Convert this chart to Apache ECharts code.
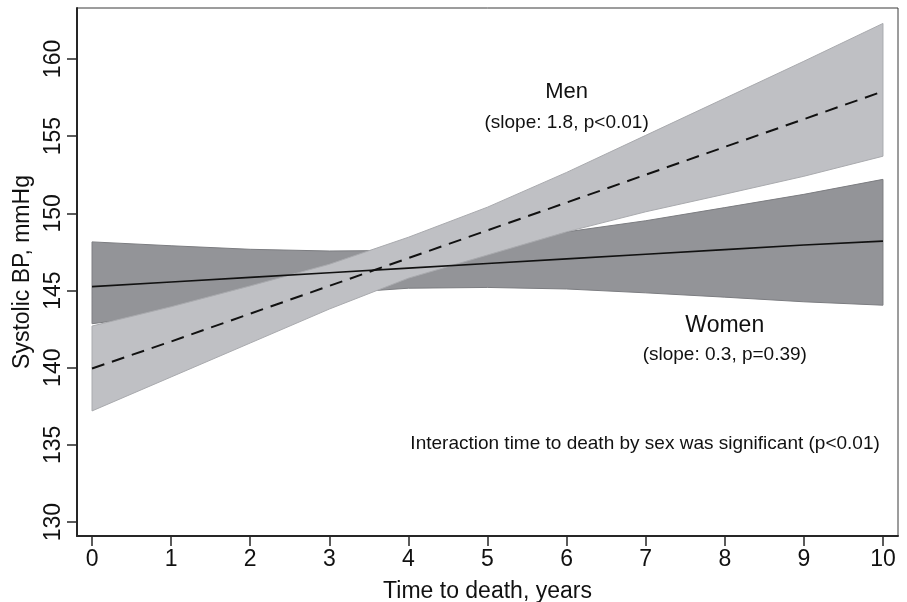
<!DOCTYPE html>
<html>
<head>
<meta charset="utf-8">
<script src="https://cdn.jsdelivr.net/npm/echarts@6/dist/echarts.min.js"></script>
<style>
  html, body { margin: 0; padding: 0; background: #fff; }
  #chart { width: 907px; height: 602px; }
</style>
</head>
<body>
<div id="chart"></div>
<script>
// years before death
const years = [0, 1, 2, 3, 4, 5, 6, 7, 8, 9, 10];

// women: fitted line and 95% band
const womenFit = [145.25, 145.55, 145.85, 146.15, 146.45, 146.75, 147.05, 147.35, 147.65, 147.95, 148.2];
const womenLow = [142.85, 143.5, 144.2, 144.8, 145.15, 145.2, 145.1, 144.85, 144.57, 144.27, 144.05];
const womenHigh = [148.15, 147.9, 147.67, 147.56, 147.6, 148.1, 148.8, 149.52, 150.37, 151.23, 152.2];

// men: fitted line and 95% band
const menFit = [139.95, 141.7, 143.5, 145.3, 147.1, 148.9, 150.7, 152.5, 154.3, 156.1, 157.9];
const menLow = [137.2, 139.4, 141.6, 143.8, 145.8, 147.3, 148.8, 150.1, 151.24, 152.4, 153.7];
const menHigh = [142.7, 143.95, 145.3, 146.7, 148.45, 150.4, 152.65, 155.05, 157.45, 159.85, 162.3];

const xTicks = [0, 1, 2, 3, 4, 5, 6, 7, 8, 9, 10];
const yTicks = [130, 135, 140, 145, 150, 155, 160];

const FONT = "'Liberation Sans', Arial, sans-serif";
const INK = "#111";

const pairs = (ys) => years.map((x, i) => [x, ys[i]]);

// one polygon per band: upper edge left->right, lower edge back
function bandSeries(name, lo, hi, fill, edge) {
  return {
    name: name,
    type: "custom",
    silent: true,
    clip: true,
    data: years.map((x, i) => [x, lo[i], hi[i]]),
    encode: { x: 0, y: [1, 2] },
    renderItem: (params, api) => {
      if (params.dataIndex !== 0) return null;
      const top = years.map((x, i) => api.coord([x, hi[i]]));
      const bottom = years.map((x, i) => api.coord([x, lo[i]])).reverse();
      return {
        type: "polygon",
        shape: { points: top.concat(bottom) },
        style: { fill: fill, stroke: edge, lineWidth: 1 }
      };
    }
  };
}

const chart = echarts.init(document.getElementById("chart"), null, { renderer: "canvas" });

const axisCommon = {
  type: "value",
  splitLine: { show: false },
  axisLine: { show: true, onZero: false, lineStyle: { color: "#262626", width: 2 } },
  axisTick: { show: true, length: 10, lineStyle: { color: "#262626", width: 1.5 } },
  axisLabel: { color: INK, fontFamily: FONT, fontSize: 23 },
  nameLocation: "middle",
  nameTextStyle: { color: INK, fontFamily: FONT, fontSize: 23 }
};

chart.setOption({
  animation: false,
  backgroundColor: "#fff",
  grid: {
    left: 77, right: 9, top: 8, bottom: 66,
    outerBoundsMode: "none",
    containLabel: false,
    show: true, borderColor: "#3a3a3a", borderWidth: 1
  },
  xAxis: Object.assign({}, axisCommon, {
    min: -0.19, max: 10.19,
    name: "Time to death, years",
    nameGap: 44,
    axisTick: Object.assign({}, axisCommon.axisTick, { customValues: xTicks }),
    axisLabel: Object.assign({}, axisCommon.axisLabel, { customValues: xTicks, margin: 12 })
  }),
  yAxis: Object.assign({}, axisCommon, {
    min: 129.1, max: 163.3,
    name: "Systolic BP, mmHg",
    nameGap: 37,
    nameRotate: 90,
    axisTick: Object.assign({}, axisCommon.axisTick, { customValues: yTicks }),
    axisLabel: Object.assign({}, axisCommon.axisLabel, { customValues: yTicks, rotate: 90, margin: 12 })
  }),
  series: [
    bandSeries("women-band", womenLow, womenHigh, "#939498", "#7c7d81"),
    bandSeries("men-band", menLow, menHigh, "#bfc0c4", "#a9aaae"),
    {
      name: "Women", type: "line", symbol: "none",
      data: pairs(womenFit),
      lineStyle: { color: "#111", width: 1.6 }
    },
    {
      name: "Men", type: "line", symbol: "none",
      data: pairs(menFit),
      lineStyle: { color: "#111", width: 2, type: [13, 8] }
    },
    {
      // text notes placed in data units
      name: "notes", type: "scatter", symbolSize: 0, silent: true,
      itemStyle: { opacity: 1 },
      label: { show: true, position: "inside", color: INK, fontFamily: FONT },
      data: [
        { value: [6.0, 157.85], label: { formatter: "Men", fontSize: 22 } },
        { value: [6.0, 155.85], label: { formatter: "(slope: 1.8, p<0.01)", fontSize: 19 } },
        { value: [8.0, 142.7], label: { formatter: "Women", fontSize: 23 } },
        { value: [8.0, 140.85], label: { formatter: "(slope: 0.3, p=0.39)", fontSize: 19 } },
        { value: [9.96, 135.1], label: { formatter: "Interaction time to death by sex was significant (p<0.01)", fontSize: 19, align: "right" } }
      ]
    }
  ]
});
</script>
</body>
</html>
